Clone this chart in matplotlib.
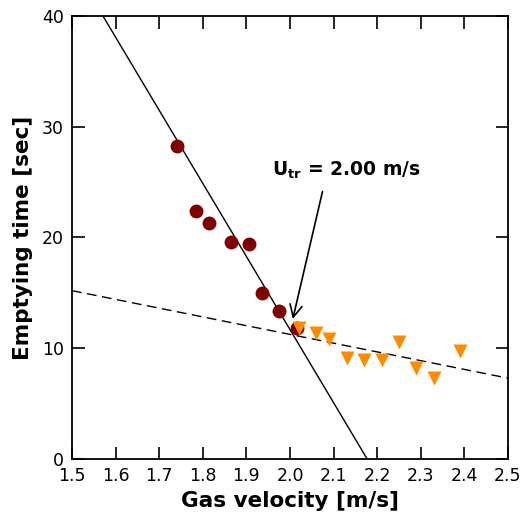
import numpy as np
import matplotlib.pyplot as plt

# measured points below transition (circles)
u_low = [1.74, 1.785, 1.815, 1.865, 1.905, 1.935, 1.975, 2.015]
t_low = [28.3, 22.4, 21.3, 19.6, 19.4, 15.0, 13.4, 11.8]

# measured points above transition (triangles)
u_high = [2.02, 2.06, 2.09, 2.13, 2.17, 2.21, 2.25, 2.29, 2.33, 2.39]
t_high = [11.8, 11.4, 10.8, 9.15, 8.95, 8.95, 10.55, 8.25, 7.35, 9.75]

# fitted lines (end points)
fit1_u = [1.571, 2.177]
fit1_t = [40.0, 0.0]
fit2_u = [1.5, 2.5]
fit2_t = [15.2, 7.3]

u_tr = 2.00

fig = plt.figure(figsize=(5.32, 5.31), dpi=100)
ax = fig.add_axes([72/532, 1-459/531, 436/532, 443/531])

ax.plot(fit1_u, fit1_t, color='black', lw=1.0)
ax.plot(fit2_u, fit2_t, color='black', lw=1.0, ls=(0, (7, 4)))
ax.plot(u_low, t_low, 'o', color='#7f0000', ms=10, mec='none')
ax.plot(u_high, t_high, 'v', color='#ff8c00', ms=10.5, mec='none')

ax.annotate('', xy=(2.005, 12.4), xytext=(2.076, 24.4),
            arrowprops=dict(arrowstyle='->', color='black', lw=1.2,
                            mutation_scale=22))
ax.text(1.958, 26.1, r'$\mathbf{U_{tr}}$ = %.2f m/s' % u_tr,
        fontsize=13.5, fontweight='bold', va='center', ha='left')

ax.set_xlim(1.5, 2.5)
ax.set_ylim(0, 40)
ax.set_xticks(np.arange(1.5, 2.51, 0.1))
ax.set_xticklabels(['%.1f' % v for v in np.arange(1.5, 2.51, 0.1)])
ax.set_yticks([0, 10, 20, 30, 40])
ax.tick_params(direction='in', length=9, width=1.2, top=True, right=True,
               labelsize=12.5, pad=6)
for s in ax.spines.values():
    s.set_linewidth(1.3)

ax.set_xlabel('Gas velocity [m/s]', fontsize=15.5, fontweight='bold', labelpad=4)
ax.set_ylabel('Emptying time [sec]', fontsize=15.5, fontweight='bold', labelpad=6)

fig.savefig('out.png', dpi=100)
